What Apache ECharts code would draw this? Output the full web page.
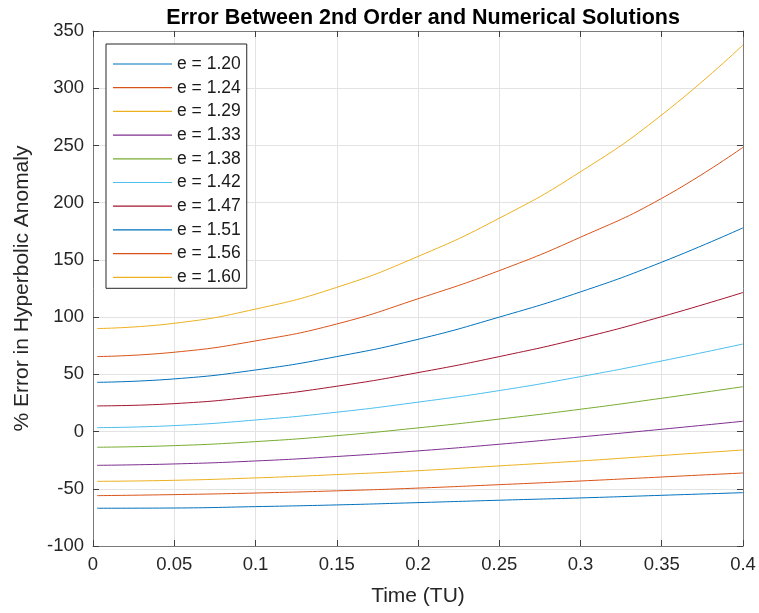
<!DOCTYPE html>
<html>
<head>
<meta charset="utf-8">
<script src="https://cdn.jsdelivr.net/npm/echarts@6/dist/echarts.min.js"></script>
<style>
    html, body { margin: 0; padding: 0; background: #fff; }
    #errorChart { width: 759px; height: 613px; }
</style>
</head>
<body>
<div id="errorChart"></div>
<script>
// time samples (TU)
const timeTU = [0.0025, 0.05, 0.1, 0.15, 0.2, 0.25, 0.3, 0.35, 0.4];
const eccentricities = ['1.20', '1.24', '1.29', '1.33', '1.38', '1.42', '1.47', '1.51', '1.56', '1.60'];

// % error, one array per eccentricity
const err120 = [-67, -66.8, -65.6, -64.1, -62.1, -60, -58, -55.7, -53.4];
const err124 = [-56, -55.1, -53.7, -51.8, -49.4, -46.4, -43.2, -39.7, -36.2];
const err129 = [-43.5, -42.6, -40.5, -37.6, -34.2, -30, -25.7, -20.9, -16.1];
const err133 = [-29.5, -28.3, -25.7, -21.8, -16.9, -11.1, -4.7, 2, 9];
const err138 = [-13.7, -12.3, -8.8, -3.6, 3.2, 10.9, 19.5, 29.1, 39.2];
const err142 = [3.4, 5.2, 10.1, 16.9, 25.7, 35.8, 48, 61.7, 76.5];
const err147 = [22.4, 24.4, 30.5, 39.6, 51.5, 65.5, 81.5, 100.4, 121.5];
const err151 = [43, 46, 53.8, 65.5, 80.6, 100, 122, 148, 178];
const err156 = [65.5, 69.3, 79.2, 94, 116, 140.6, 169.8, 203.8, 248.4];
const err160 = [90, 94.6, 107, 126, 153, 186.4, 227, 276.7, 337.8];

const errSeries = [err120, err124, err129, err133, err138, err142, err147, err151, err156, err160];
const colors = ['#0072BD', '#D95319', '#EDB120', '#7E2F8E', '#77AC30', '#4DBEEE', '#A2142F', '#0072BD', '#D95319', '#EDB120'];

const fontFam = "'Liberation Sans', Arial, Helvetica, sans-serif";

const series = errSeries.map((vals, i) => ({
    name: 'e = ' + eccentricities[i],
    type: 'line',
    smooth: true,
    symbol: 'none',
    lineStyle: { width: 1, color: colors[i] },
    itemStyle: { color: colors[i] },
    data: vals.map((v, j) => [timeTU[j], v])
}));

// shared look of the box axes (MATLAB style: inward ticks)
const boxLine = { show: true, onZero: false, lineStyle: { color: '#7a7a7a', width: 1 } };
const boxTick = { show: true, inside: true, length: 6, lineStyle: { color: '#404040' } };

const option = {
    animation: false,
    title: {
        text: 'Error Between 2nd Order and Numerical Solutions',
        left: 418,
        textAlign: 'center',
        top: 2,
        textStyle: { fontFamily: fontFam, fontSize: 21.5, fontWeight: 'bold', color: '#000' }
    },
    legend: {
        orient: 'vertical',
        left: 106,
        top: 44,
        padding: [11, 6, 2, 7],
        icon: 'path://M0,0h60v1.2h-60z',
        itemWidth: 59,
        itemHeight: 14,
        itemGap: 5.7,
        backgroundColor: '#fff',
        borderColor: '#262626',
        borderWidth: 1,
        textStyle: { fontFamily: fontFam, fontSize: 17.5, color: '#1a1a1a' },
        data: series.map(s => s.name)
    },
    grid: { left: 93, right: 16, top: 31, bottom: 67 },
    xAxis: [
        {
            type: 'value',
            min: 0,
            max: 0.4,
            interval: 0.05,
            name: 'Time (TU)',
            nameLocation: 'middle',
            nameGap: 40,
            nameTextStyle: { fontFamily: fontFam, fontSize: 21, color: '#262626' },
            axisLine: boxLine,
            axisTick: boxTick,
            axisLabel: { fontFamily: fontFam, fontSize: 18.5, color: '#262626', margin: 9 },
            splitLine: { show: true, lineStyle: { color: '#e3e3e3', width: 1 } }
        },
        {
            type: 'value',
            position: 'top',
            min: 0,
            max: 0.4,
            interval: 0.05,
            axisLine: boxLine,
            axisTick: boxTick,
            axisLabel: { show: false },
            splitLine: { show: false }
        }
    ],
    yAxis: [
        {
            type: 'value',
            min: -100,
            max: 350,
            interval: 50,
            name: '% Error in Hyperbolic Anomaly',
            nameLocation: 'middle',
            nameGap: 60,
            nameTextStyle: { fontFamily: fontFam, fontSize: 21, color: '#262626' },
            axisLine: boxLine,
            axisTick: boxTick,
            axisLabel: { fontFamily: fontFam, fontSize: 18.5, color: '#262626', margin: 9 },
            splitLine: { show: true, lineStyle: { color: '#e3e3e3', width: 1 } }
        },
        {
            type: 'value',
            position: 'right',
            min: -100,
            max: 350,
            interval: 50,
            axisLine: boxLine,
            axisTick: boxTick,
            axisLabel: { show: false },
            splitLine: { show: false }
        }
    ],
    series: series
};

const errorChart = echarts.init(document.getElementById('errorChart'));
errorChart.setOption(option);
</script>
</body>
</html>
